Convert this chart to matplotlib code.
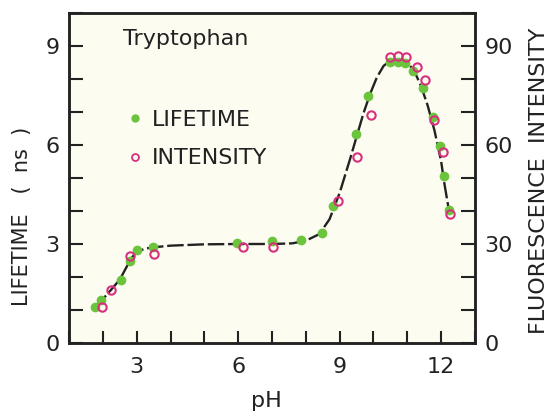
import matplotlib.pyplot as plt
from matplotlib.lines import Line2D

# lifetime (ns), filled green
life_ph = [1.76, 1.96, 2.53, 2.80, 3.01, 3.49, 5.97, 7.01, 7.85, 8.47, 8.81, 9.48, 9.85,
           10.49, 10.72, 10.94, 11.18, 11.46, 11.75, 11.97, 12.07, 12.22]
life_ns = [1.08, 1.30, 1.90, 2.48, 2.82, 2.90, 3.04, 3.10, 3.12, 3.32, 4.15, 6.32, 7.49,
           8.50, 8.50, 8.48, 8.25, 7.74, 6.86, 5.98, 5.06, 4.03]

# fluorescence intensity, open pink
int_ph = [1.98, 2.25, 2.80, 3.51, 6.15, 7.04, 8.96, 9.52, 9.92, 10.49, 10.72, 10.96,
          11.28, 11.52, 11.80, 12.05, 12.26]
int_val = [11.0, 16.0, 26.5, 27.0, 29.0, 29.0, 43.0, 56.5, 69.0, 86.7, 87.0, 86.7,
           83.7, 79.7, 67.6, 58.0, 39.0]

# fitted curve
fit_ph = [1.75, 2.0, 2.25, 2.5, 2.7, 2.85, 3.0, 3.25, 3.5, 4.0, 5.0, 6.0, 7.0, 7.6, 8.0,
          8.4, 8.7, 9.0, 9.3, 9.5, 9.7, 9.9, 10.1, 10.3, 10.5, 10.8, 11.0, 11.2, 11.4,
          11.6, 11.8, 12.0, 12.1, 12.2, 12.25]
fit_ns = [1.08, 1.33, 1.62, 1.92, 2.30, 2.58, 2.76, 2.86, 2.90, 2.95, 2.99, 3.00, 3.00,
          3.02, 3.10, 3.30, 3.75, 4.55, 5.55, 6.25, 6.95, 7.55, 8.05, 8.40, 8.55, 8.58,
          8.50, 8.25, 7.80, 7.20, 6.45, 5.50, 4.80, 4.20, 3.95]

green = "#6cc43c"
pink = "#d8307e"
ink = "#222222"

plt.rcParams["font.family"] = "DejaVu Sans"

fig = plt.figure(figsize=(5.5, 4.11), dpi=100, facecolor="white")
ax = fig.add_axes([69 / 550, 1 - 343 / 411, (475 - 69) / 550, (343 - 13) / 411])
ax.set_facecolor("#fdfcf1")
ax2 = ax.twinx()

ax.plot(fit_ph, fit_ns, color=ink, lw=1.7, dashes=(7, 1.6), zorder=2)
ax.plot(life_ph, life_ns, "o", color=green, ms=6, mec=green, zorder=3)
ax2.plot(int_ph, int_val, "o", mfc="none", mec=pink, mew=1.5, ms=6, zorder=3)

ax.set_xlim(1, 13)
ax.set_ylim(0, 10)
ax2.set_ylim(0, 100)

ax.set_xticks(range(1, 14))
ax.set_xticklabels(["" if v % 3 else str(v) for v in range(1, 14)])
ax.set_yticks(range(0, 11))
ax.set_yticklabels([str(v) if v % 3 == 0 else "" for v in range(0, 11)])
ax2.set_yticks(range(0, 101, 10))
ax2.set_yticklabels([str(v) if v % 30 == 0 else "" for v in range(0, 101, 10)])

for a in (ax, ax2):
    a.tick_params(direction="in", length=10, width=1.5, colors=ink, labelsize=16, pad=7)
    for s in a.spines.values():
        s.set_linewidth(1.8)
        s.set_color(ink)
ax.tick_params(axis="x", length=9, pad=10)
ax.tick_params(axis="y", right=False)

ax.set_xlabel("pH", fontsize=16, color=ink)
ax.xaxis.set_label_coords(0.485, -0.145)
ax.set_ylabel("LIFETIME   (  ns  )", fontsize=15, color=ink)
ax.yaxis.set_label_coords(-0.09, 0.385)
ax2.set_ylabel("FLUORESCENCE  INTENSITY", fontsize=16, color=ink)
ax2.yaxis.set_label_coords(1.133, 0.49)

ax.text(0.133, 0.92, "Tryptophan", transform=ax.transAxes, fontsize=16, color=ink, va="center")

handles = [
    Line2D([], [], ls="none", marker="o", color=green, ms=5),
    Line2D([], [], ls="none", marker="o", mfc="none", mec=pink, mew=1.3, ms=5),
]
ax.legend(handles, ["LIFETIME", "INTENSITY"], loc="upper left", bbox_to_anchor=(0.097, 0.768),
          frameon=False, fontsize=16, handlelength=0.6, handletextpad=0.45,
          labelspacing=0.85, labelcolor=ink)

fig.savefig("out.png", dpi=100, facecolor="white")
